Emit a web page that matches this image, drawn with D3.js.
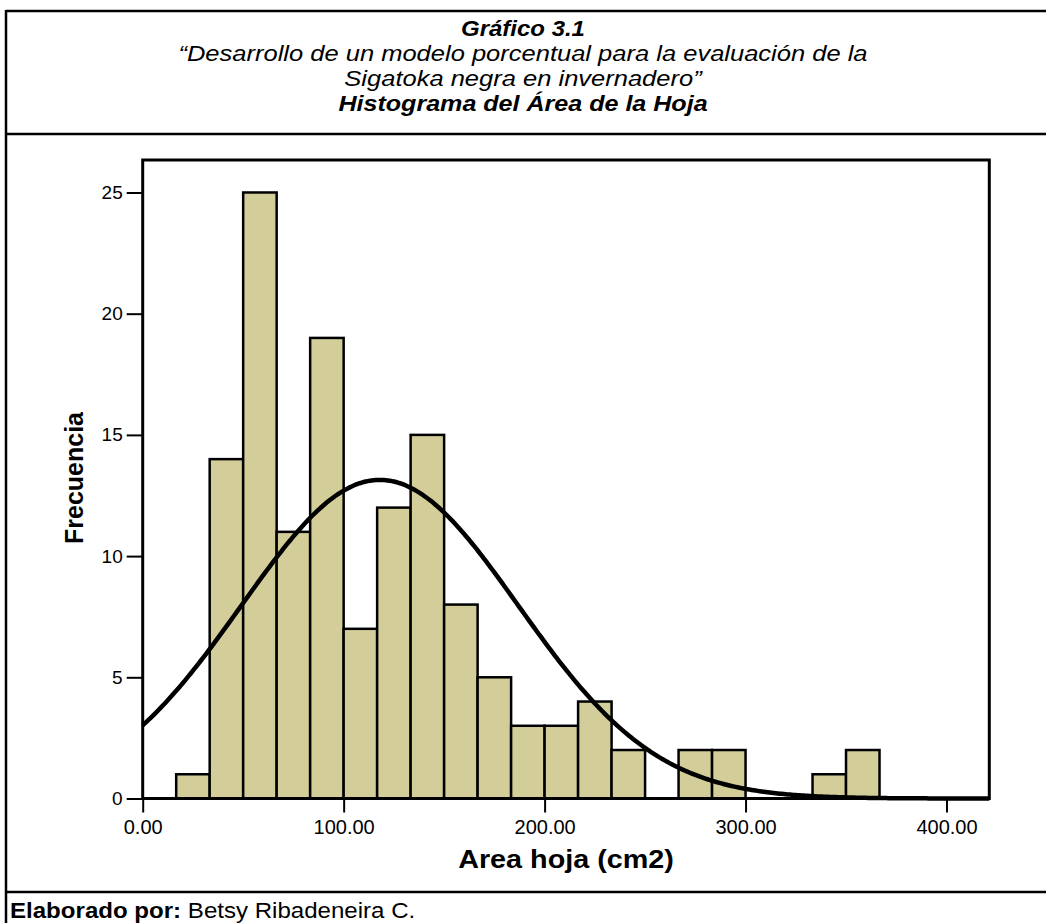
<!DOCTYPE html>
<html>
<head>
<meta charset="utf-8">
<script src="https://cdn.jsdelivr.net/npm/d3@7"></script>
<style>
  html, body { margin: 0; padding: 0; background: #fff; }
  svg { display: block; font-family: "Liberation Sans", Arial, Helvetica, sans-serif; }
</style>
</head>
<body>
<svg id="chart" width="1046" height="923"></svg>
<script>
// ---- Data ----
const binWidth = 50 / 3;                 // cm2 per bin
const binStarts = [16.667, 33.333, 50, 66.667, 83.333, 100, 116.667, 133.333, 150, 166.667,
                   183.333, 200, 216.667, 233.333, 250, 266.667, 283.333, 300, 316.667, 333.333, 350];
const counts    = [1, 14, 25, 11, 19, 7, 12, 15, 8, 5, 3, 3, 4, 2, 0, 2, 2, 0, 0, 1, 2];
const xTicks = [0, 100, 200, 300, 400];
const yTicks = [0, 5, 10, 15, 20, 25];
const normalMean = 118.0;
const normalSD = 68.8;
const titleLines = ["Gráfico 3.1",
  "“Desarrollo de un modelo porcentual para la evaluación de la",
  "Sigatoka negra en invernadero”",
  "Histograma del Área de la Hoja"];

const svg = d3.select("#chart");

// ---- outer table frame ----
const frame = svg.append("g").attr("stroke", "#000").attr("stroke-width", 2.5);
frame.append("line").attr("x1", 6).attr("x2", 1046).attr("y1", 11).attr("y2", 11);
frame.append("line").attr("x1", 6).attr("x2", 6).attr("y1", 10).attr("y2", 923);
frame.append("line").attr("x1", 6).attr("x2", 1046).attr("y1", 134).attr("y2", 134);
frame.append("line").attr("x1", 6).attr("x2", 1046).attr("y1", 892).attr("y2", 892);

// ---- title (the reference text is horizontally stretched) ----
const titleY = [35.5, 60.5, 85.5, 110.5];
const titleWeights = ["bold", "normal", "normal", "bold"];
const titleStretch = [1.09, 1.16, 1.16, 1.14];
titleLines.forEach((t, i) => {
  svg.append("text")
    .attr("transform", `translate(523,${titleY[i]}) scale(${titleStretch[i]},1)`)
    .attr("text-anchor", "middle")
    .attr("font-size", 22)
    .attr("font-style", "italic")
    .attr("font-weight", titleWeights[i])
    .text(t);
});

// ---- plot ----
const x = d3.scaleLinear().domain([0, 421.3]).range([142.7, 989.3]);
const y = d3.scaleLinear().domain([0, 26.34]).range([798.5, 160]);

const bins = binStarts.map((s, i) => ({ x0: s, x1: s + binWidth, n: counts[i] }));

svg.append("g").selectAll("rect")
  .data(bins.filter(d => d.n > 0))
  .join("rect")
  .attr("x", d => x(d.x0))
  .attr("width", d => x(d.x1) - x(d.x0))
  .attr("y", d => y(d.n))
  .attr("height", d => y(0) - y(d.n))
  .attr("fill", "#d3ce99")
  .attr("stroke", "#000")
  .attr("stroke-width", 2.5);

// normal curve
const N = d3.sum(counts);
const amp = N * binWidth / (normalSD * Math.sqrt(2 * Math.PI));
const curvePts = d3.range(0, 421.3, 1).concat([421.3])
  .map(v => [v, amp * Math.exp(-((v - normalMean) ** 2) / (2 * normalSD ** 2))]);
svg.append("path")
  .datum(curvePts)
  .attr("fill", "none")
  .attr("stroke", "#000")
  .attr("stroke-width", 4.5)
  .attr("d", d3.line().x(d => x(d[0])).y(d => y(d[1])));

// plot frame
svg.append("rect")
  .attr("x", x(0)).attr("y", y(26.34))
  .attr("width", x(421.3) - x(0)).attr("height", y(0) - y(26.34))
  .attr("fill", "none").attr("stroke", "#000").attr("stroke-width", 3);

// axes
const xAxis = d3.axisBottom(x).tickValues(xTicks).tickFormat(d3.format(".2f")).tickSize(14).tickPadding(7);
const gx = svg.append("g").attr("transform", `translate(0,${y(0)})`).call(xAxis);
gx.select(".domain").remove();
gx.selectAll(".tick line").attr("stroke", "#000").attr("stroke-width", 2);
gx.selectAll(".tick text").attr("font-size", 20).attr("fill", "#000")
  .attr("font-family", "Liberation Sans, Arial, sans-serif");

const yAxis = d3.axisLeft(y).tickValues(yTicks).tickFormat(d3.format("d")).tickSize(16).tickPadding(4);
const gy = svg.append("g").attr("transform", `translate(${x(0)},0)`).call(yAxis);
gy.select(".domain").remove();
gy.selectAll(".tick line").attr("stroke", "#000").attr("stroke-width", 2);
gy.selectAll(".tick text").attr("font-size", 19).attr("fill", "#000")
  .attr("font-family", "Liberation Sans, Arial, sans-serif");

// axis titles
svg.append("text")
  .attr("transform", "translate(566,868) scale(1.15,1)")
  .attr("text-anchor", "middle")
  .attr("font-size", 25).attr("font-weight", "bold")
  .text("Area hoja (cm2)");

svg.append("text")
  .attr("transform", "translate(83,478) rotate(-90)")
  .attr("text-anchor", "middle")
  .attr("font-size", 25).attr("font-weight", "bold")
  .text("Frecuencia");

// footer
const foot = svg.append("text")
  .attr("transform", "translate(10,918) scale(1.12,1)")
  .attr("font-size", 21.5);
foot.append("tspan").attr("font-weight", "bold").text("Elaborado por:");
foot.append("tspan").text(" Betsy Ribadeneira C.");
</script>
</body>
</html>
